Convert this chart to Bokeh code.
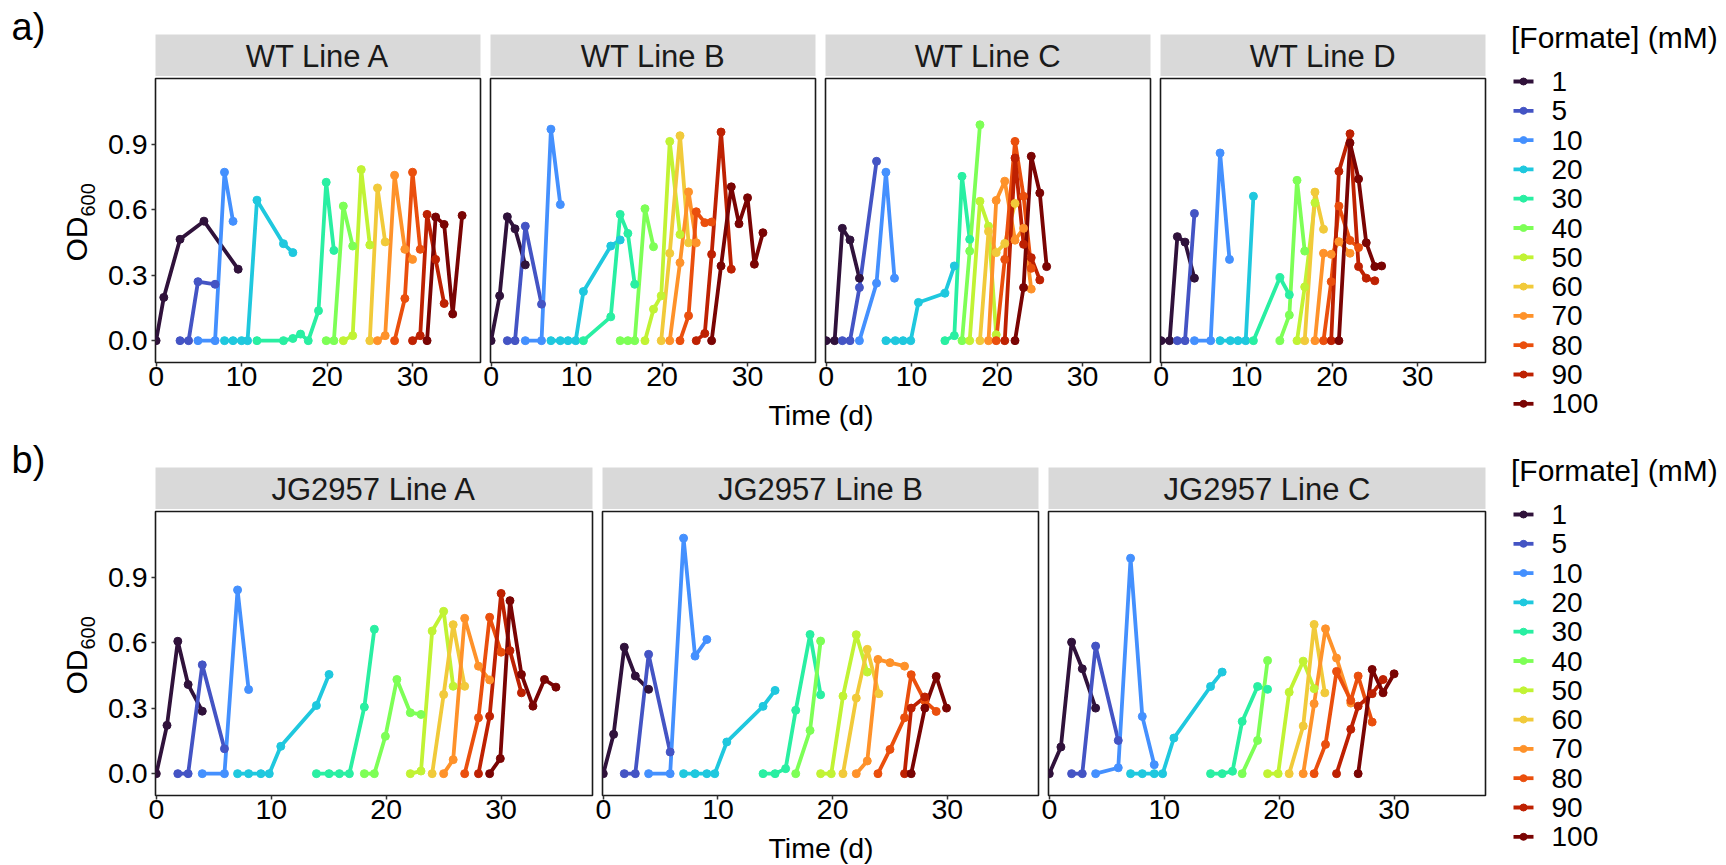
import math
from bokeh.plotting import figure
from bokeh.layouts import row, column
from bokeh.models import Range1d, FixedTicker, NumeralTickFormatter
from bokeh.embed import file_html
from bokeh.resources import INLINE
from bokeh.core.properties import value

# ---------------- data ----------------
FORMATE = [1, 5, 10, 20, 30, 40, 50, 60, 70, 80, 90, 100]
COLORS = ["#30123B", "#4454C4", "#4490FE", "#1FC8DE", "#29EFA2", "#7DFF56",
          "#C1F334", "#F1CA3A", "#FE922A", "#EA4F0D", "#BE2102", "#7A0403"]
X_TICKS = [0, 10, 20, 30]
Y_TICKS = [0.0, 0.3, 0.6, 0.9]
WT_PANELS = ["WT Line A", "WT Line B", "WT Line C", "WT Line D"]
JG_PANELS = ["JG2957 Line A", "JG2957 Line B", "JG2957 Line C"]
LEGEND_TITLE = "[Formate] (mM)"
X_TITLE = "Time (d)"

# WT Line A (one list per formate concentration)
WT_A_T = [[0, 0.9, 2.8, 5.6, 9.6], [2.8, 3.8, 4.9, 6.9], [4.9, 6.9, 8.0, 9.0],
          [8.0, 9.0, 10.0, 10.7, 11.8, 14.9, 16.0],
          [11.8, 14.9, 16.0, 16.9, 17.8, 19.0, 19.9, 20.8], [19.9, 20.8, 21.9, 23.0],
          [21.9, 23.0, 24.0, 25.0], [25.0, 25.9, 26.8], [25.9, 26.8, 27.9, 29.1, 30.0],
          [27.9, 29.1, 30.0, 30.9], [30.0, 30.9, 31.7, 32.7, 33.7],
          [31.7, 32.7, 33.7, 34.7, 35.8]]
WT_A_OD = [[0, 0.198, 0.464, 0.547, 0.327], [0, 0, 0.27, 0.258], [0, 0, 0.771, 0.546],
           [0, 0, 0, 0, 0.643, 0.444, 0.403],
           [0, 0, 0.01, 0.03, 0, 0.137, 0.725, 0.413], [0, 0, 0.616, 0.433],
           [0, 0.023, 0.783, 0.438], [0, 0.699, 0.452], [0, 0.023, 0.757, 0.418, 0.372],
           [0, 0.193, 0.771, 0.418], [0, 0.023, 0.578, 0.372, 0.17],
           [0, 0.566, 0.532, 0.122, 0.573]]

# WT Line B
WT_B_T = [[0, 1.0, 1.9, 2.8, 4.0], [1.9, 2.8, 4.0, 5.9], [4.0, 5.9, 7.0, 8.1],
          [7.0, 8.1, 9.0, 9.9, 10.8, 14.0, 15.1], [10.8, 14.0, 15.1, 16.0, 16.8],
          [15.1, 16.0, 16.8, 18.0, 19.0], [18.0, 19.0, 19.9, 20.9, 22.1],
          [19.9, 20.9, 22.1, 23.1], [20.9, 22.1, 23.1, 24.0],
          [22.1, 23.1, 24.0, 25.0, 25.8], [24.0, 25.0, 25.8, 26.9, 28.1],
          [25.8, 26.9, 28.1, 29.0, 30.0, 30.8, 31.8]]
WT_B_OD = [[0, 0.205, 0.567, 0.512, 0.347], [0, 0, 0.524, 0.167], [0, 0, 0.968, 0.623],
           [0, 0, 0, 0, 0.225, 0.433, 0.461], [0, 0.109, 0.578, 0.491, 0.258],
           [0, 0, 0, 0.604, 0.43], [0, 0.144, 0.205, 0.912, 0.486],
           [0, 0.4, 0.938, 0.448], [0, 0.357, 0.681, 0.448],
           [0, 0.114, 0.59, 0.54, 0.543], [0, 0.033, 0.395, 0.955, 0.327],
           [0, 0.342, 0.704, 0.535, 0.654, 0.35, 0.494]]

# WT Line C
WT_C_T = [[0, 1.0, 1.9, 2.8, 3.9], [1.9, 2.8, 3.9, 5.9], [3.9, 5.9, 7.0, 8.0],
          [7.0, 8.1, 9.0, 9.9, 10.8, 13.9, 15.0], [13.9, 15.0, 15.9, 16.8],
          [15.9, 16.8, 18.0], [16.8, 18.0, 19.0, 19.9], [18.0, 19.0, 19.9, 20.9, 22.1],
          [19.0, 19.9, 20.9, 22.1, 23.1, 24.0], [19.9, 20.9, 22.1, 23.1, 24.0],
          [20.9, 22.1, 23.1, 24.0, 25.0], [22.1, 23.1, 24.0, 25.0, 25.8]]
WT_C_OD = [[0, 0, 0.514, 0.461, 0.286], [0, 0, 0.243, 0.821], [0, 0.263, 0.771, 0.286],
           [0, 0, 0, 0, 0.175, 0.217, 0.342], [0, 0.023, 0.752, 0.464],
           [0, 0.41, 0.988], [0, 0.638, 0.524, 0.027], [0, 0.5, 0.403, 0.445, 0.628],
           [0, 0.642, 0.73, 0.46, 0.514, 0.236], [0, 0.372, 0.912, 0.661, 0.331],
           [0, 0.836, 0.441, 0.38, 0.278], [0, 0.243, 0.844, 0.676, 0.339]]

# WT Line D
WT_D_T = [[0, 1.0, 1.9, 2.8, 3.9], [1.9, 2.8, 3.9], [3.9, 5.8, 6.9, 8.0],
          [6.9, 8.1, 9.0, 9.9, 10.8], [10.8, 13.9, 15.0], [13.9, 15.0, 15.9, 16.8],
          [15.9, 16.8, 18.0], [16.8, 18.0, 19.0], [18.0, 19.0, 19.9, 20.8, 22.1],
          [19.0, 19.9, 20.8, 22.1, 23.1], [19.9, 20.8, 22.1, 23.1, 24.0, 25.0],
          [20.8, 22.1, 23.1, 24.0, 25.0, 25.8]]
WT_D_OD = [[0, 0, 0.476, 0.451, 0.286], [0, 0, 0.582], [0, 0, 0.859, 0.372],
           [0, 0, 0, 0, 0.661], [0, 0.289, 0.21], [0, 0.117, 0.734, 0.41],
           [0, 0.246, 0.631], [0, 0.68, 0.51], [0, 0.4, 0.395, 0.453, 0.4],
           [0, 0.27, 0.616, 0.459, 0.426], [0, 0.775, 0.947, 0.339, 0.286, 0.274],
           [0, 0.905, 0.74, 0.448, 0.339, 0.342]]

# JG2957 Line A
JG_A_T = [[0, 0.93, 1.87, 2.77, 4.0], [1.87, 2.77, 4.0, 5.93], [4.0, 5.93, 7.07, 8.03],
          [7.07, 8.03, 9.1, 9.83, 10.83, 13.93, 15.03],
          [13.93, 15.03, 15.93, 16.8, 18.1, 18.97],
          [18.1, 18.97, 19.93, 20.93, 22.1, 23.03], [22.1, 23.03, 24.0, 25.0, 25.83],
          [24.0, 25.0, 25.83, 26.83], [25.0, 25.83, 26.83, 28.03, 29.0],
          [26.83, 28.03, 29.0, 30.0], [28.03, 29.0, 30.0, 30.77, 31.77],
          [29.0, 29.93, 30.77, 31.77, 32.77, 33.77, 34.77]]
JG_A_OD = [[0, 0.221, 0.606, 0.408, 0.286], [0, 0, 0.498, 0.114], [0, 0, 0.841, 0.385],
           [0, 0, 0, 0, 0.125, 0.312, 0.454], [0, 0, 0, 0, 0.305, 0.661],
           [0, 0, 0.171, 0.431, 0.279, 0.271], [0, 0.012, 0.653, 0.743, 0.4],
           [0, 0.362, 0.682, 0.4], [0, 0.064, 0.711, 0.492, 0.429],
           [0, 0.256, 0.716, 0.556], [0, 0.263, 0.825, 0.563, 0.37],
           [0, 0.069, 0.792, 0.454, 0.309, 0.431, 0.396]]

# JG2957 Line B
JG_B_T = [[0, 0.9, 1.83, 2.79, 3.95], [1.83, 2.79, 3.95, 5.83],
          [3.95, 5.83, 7.0, 8.0, 9.03], [7.0, 8.0, 9.03, 9.72, 10.77, 13.93, 14.98],
          [13.93, 14.98, 15.9, 16.78, 18.03, 18.95], [16.78, 18.03, 18.95],
          [18.95, 19.88, 20.9, 22.06, 23.02], [20.9, 22.06, 23.02, 24.03],
          [22.06, 23.02, 23.95, 25.0, 26.27], [23.95, 25.0, 26.27, 26.85, 28.04, 29.03],
          [26.27, 26.85, 28.04], [26.85, 28.04, 29.03, 29.93]]
JG_B_OD = [[0, 0.18, 0.579, 0.447, 0.386], [0, 0, 0.546, 0.099],
           [0, 0, 1.078, 0.538, 0.614], [0, 0, 0, 0, 0.145, 0.308, 0.381],
           [0, 0, 0.023, 0.29, 0.637, 0.361], [0, 0.198, 0.607],
           [0, 0, 0.355, 0.636, 0.465], [0, 0.346, 0.569, 0.366],
           [0, 0.058, 0.523, 0.508, 0.492], [0, 0.111, 0.256, 0.453, 0.332, 0.285],
           [0, 0.3, 0.351], [0, 0.3, 0.445, 0.3]]

# JG2957 Line C
JG_C_T = [[0, 1.01, 1.94, 2.87, 4.03], [1.94, 2.87, 4.03, 6.0],
          [4.03, 6.0, 7.07, 8.09, 9.13], [7.07, 8.09, 9.13, 9.86, 10.84, 14.03, 15.04],
          [14.03, 15.04, 15.94, 16.78, 18.12, 18.99], [16.78, 18.12, 18.99],
          [18.99, 19.91, 20.87, 22.09, 23.04], [20.87, 22.09, 23.04, 23.97],
          [22.09, 23.04, 24.03, 24.99, 26.23], [23.04, 24.03, 24.99, 26.23, 26.87, 28.09],
          [24.99, 26.23, 26.87, 28.09, 29.04], [26.87, 28.09, 29.04, 30.0]]
JG_C_OD = [[0, 0.122, 0.602, 0.48, 0.3], [0, 0, 0.584, 0.152],
           [0, 0.027, 0.986, 0.262, 0.041], [0, 0, 0, 0, 0.163, 0.399, 0.465],
           [0, 0, 0.011, 0.239, 0.399, 0.386], [0, 0.152, 0.518],
           [0, 0, 0.373, 0.515, 0.389], [0, 0.218, 0.683, 0.37],
           [0, 0.32, 0.663, 0.529, 0.323], [0, 0.134, 0.468, 0.335, 0.447, 0.236],
           [0, 0.203, 0.309, 0.366, 0.431], [0, 0.477, 0.37, 0.457]]

# ---------------- styling ----------------
FONT = "Liberation Sans"
STRIP_FILL = "#D9D9D9"
TEXT_DARK = "#1a1a1a"
MARGIN_W = 102
FIRST_LEFT = 155 - MARGIN_W
LEGEND_W = 239
STRIP_H = 76
PANEL_BOTTOM = 36
PANEL_H = 2 + 284 + PANEL_BOTTOM
LINE_W = 3.8
PT_SIZE = 8
TICK_FONT = "28.5px"


def base_fig(w, h, xr, yr, **kw):
    f = figure(width=w, height=h, x_range=xr, y_range=yr, title=None,
               output_backend="svg", toolbar_location=None, **kw)
    f.grid.visible = False
    f.background_fill_color = "white"
    f.border_fill_color = "white"
    return f


def blank(w, h):
    f = base_fig(w, h, Range1d(0, w), Range1d(0, h), min_border=0,
                 x_axis_location=None, y_axis_location=None)
    f.outline_line_color = None
    return f


def strip_fig(label, width, left):
    s = base_fig(width, STRIP_H, Range1d(0, 1), Range1d(0, 1),
                 min_border_left=left, min_border_right=2, min_border_top=34,
                 min_border_bottom=0, x_axis_location=None, y_axis_location=None)
    s.outline_line_color = None
    s.background_fill_color = STRIP_FILL
    s.text(x=[0.5], y=[0.47], text=[label], text_align="center", text_baseline="middle",
           text_font=value(FONT), text_font_size="31px", text_color=TEXT_DARK)
    return s


def panel_fig(times, ods, width, first):
    p = base_fig(width, PANEL_H, Range1d(-0.07, 37.95), Range1d(-0.1, 1.2),
                 min_border_left=FIRST_LEFT if first else 8, min_border_right=2,
                 min_border_top=2, min_border_bottom=PANEL_BOTTOM,
                 y_axis_location="left" if first else None)
    p.outline_line_color = TEXT_DARK
    p.outline_line_width = 1.6
    for t, o, c in zip(times, ods, COLORS):
        p.line(t, o, line_color=c, line_width=LINE_W)
    for t, o, c in zip(times, ods, COLORS):
        p.scatter(t, o, size=PT_SIZE, fill_color=c, line_color=c)
    axes = [p.xaxis[0]] + ([p.yaxis[0]] if first else [])
    for ax in axes:
        ax.axis_line_color = None
        ax.major_tick_line_color = "#333333"
        ax.major_tick_line_width = 1.5
        ax.major_tick_out = 4
        ax.major_tick_in = 0
        ax.minor_tick_line_color = None
        ax.major_label_text_font = FONT
        ax.major_label_text_font_size = TICK_FONT
        ax.major_label_text_color = "black"
    p.xaxis[0].ticker = FixedTicker(ticks=X_TICKS)
    p.xaxis[0].major_label_standoff = 0
    if first:
        p.yaxis[0].ticker = FixedTicker(ticks=Y_TICKS)
        p.yaxis[0].formatter = NumeralTickFormatter(format="0.0")
        p.yaxis[0].major_label_standoff = 4
    return p


def margin_fig(h, tag):
    m = blank(MARGIN_W, h)
    m.text(x=[11], y=[h - 26], text=[tag], text_align="left", text_baseline="middle",
           text_font=value(FONT), text_font_size="38px", text_color="black")
    m.text(x=[76], y=[h - 261], text=["OD"], angle=math.pi / 2, text_align="left",
           text_baseline="middle", text_font=value(FONT), text_font_size="30px",
           text_color="black")
    m.text(x=[87.5], y=[h - 216], text=["600"], angle=math.pi / 2, text_align="left",
           text_baseline="middle", text_font=value(FONT), text_font_size="20px",
           text_color="black")
    return m


def time_fig(w, h):
    t = blank(w, h)
    t.text(x=[820.5 - MARGIN_W], y=[h - 16.5], text=[X_TITLE], text_align="center",
           text_baseline="middle", text_font=value(FONT), text_font_size="28.5px",
           text_color="black")
    return t


def legend_fig(h):
    lf = blank(LEGEND_W, h)
    lf.text(x=[23.5], y=[h - 37], text=[LEGEND_TITLE], text_align="left",
            text_baseline="middle", text_font=value(FONT), text_font_size="30px",
            text_color="black")
    n = len(FORMATE)
    ys = [h - (81 + 29.3 * i) for i in range(n)]
    lf.segment(x0=[26] * n, x1=[46] * n, y0=ys, y1=ys, line_color=COLORS,
               line_width=LINE_W)
    lf.scatter(x=[36] * n, y=ys, size=PT_SIZE - 1, fill_color=COLORS, line_color=COLORS)
    lf.text(x=[64] * n, y=ys, text=[str(f) for f in FORMATE], text_align="left",
            text_baseline="middle", text_font=value(FONT), text_font_size="28px",
            text_color="black")
    return lf


def build_row(names, data, col_widths, h, tag):
    cols = []
    for i, (name, (t, o), w) in enumerate(zip(names, data, col_widths)):
        left = FIRST_LEFT if i == 0 else 8
        cols.append(column(strip_fig(name, w, left), panel_fig(t, o, w, i == 0), spacing=0))
    center = column(row(*cols, spacing=0), time_fig(sum(col_widths), h - STRIP_H - PANEL_H),
                    spacing=0)
    return row(margin_fig(h, tag), center, legend_fig(h), spacing=0)


top = build_row(WT_PANELS,
                [(WT_A_T, WT_A_OD), (WT_B_T, WT_B_OD), (WT_C_T, WT_C_OD), (WT_D_T, WT_D_OD)],
                [380, 335, 335, 335], 433, "a)")
bottom = build_row(JG_PANELS,
                   [(JG_A_T, JG_A_OD), (JG_B_T, JG_B_OD), (JG_C_T, JG_C_OD)],
                   [492, 446, 447], 432, "b)")

layout = column(top, bottom, spacing=0)
open("out.html", "w").write(file_html(layout, INLINE))
